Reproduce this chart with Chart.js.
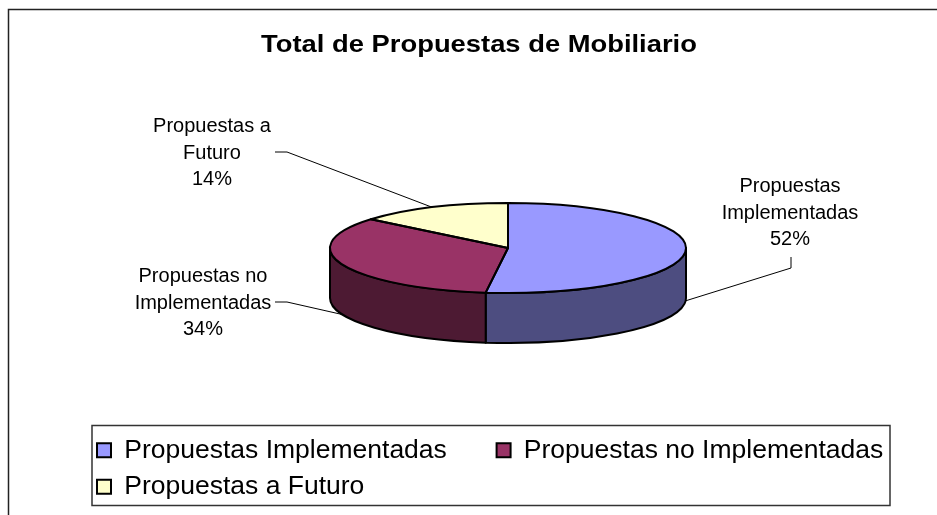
<!DOCTYPE html>
<html>
<head>
<meta charset="utf-8">
<script src="https://cdn.jsdelivr.net/npm/chart.js@4.4.0/dist/chart.umd.min.js"></script>
<style>
  html, body { margin: 0; padding: 0; background: #fff; }
  #wrap { width: 937px; height: 515px; position: relative; }
</style>
</head>
<body>
<div id="wrap"><canvas id="chart" width="937" height="515"></canvas></div>
<script>
// --- 1. Data ---
const categories = ['Propuestas Implementadas', 'Propuestas no Implementadas', 'Propuestas a Futuro'];
const shares = [52, 34, 14];
const labelLines = [['Propuestas', 'Implementadas'], ['Propuestas no', 'Implementadas'], ['Propuestas a', 'Futuro']];
const chartTitle = 'Total de Propuestas de Mobiliario';

// --- 2. Colours and layout ---
const TOP_COLORS = ['#9999FF', '#993366', '#FFFFCC'];
const SIDE_COLORS = ['#4D4D80', '#4D1A33', '#808066'];
const FONT = 'Arial, "Liberation Sans", sans-serif';
const PIE = { cx: 508, cy: 248, rx: 178, ry: 45, depth: 50 };
// legend gaps push the second column over (Excel lays the legend out in columns)
const LEGEND_GAP = ['\u2003\u2002', '', ''];
// first-line centre/baseline of each data label and the elbow of its leader line
const LABEL_LAYOUT = [
  { x: 790, y: 192, elbow: [[791, 257], [791, 268]] },
  { x: 203, y: 282, elbow: [[275, 302], [287, 302]] },
  { x: 212, y: 132, elbow: [[275, 152], [287, 152]] }
];
const LINE_GAP = 26.5;

// --- 3. Plugins ---
function wall(ctx, a, b, color) {
  const { cx, cy, rx, ry, depth } = PIE;
  ctx.beginPath();
  ctx.ellipse(cx, cy, rx, ry, 0, a, b, false);
  ctx.lineTo(cx + rx * Math.cos(b), cy + depth + ry * Math.sin(b));
  ctx.ellipse(cx, cy + depth, rx, ry, 0, b, a, true);
  ctx.closePath();
  ctx.fillStyle = color;
  ctx.fill();
  ctx.stroke();
}

const pie3d = {
  id: 'pie3d',
  beforeDatasetsDraw(chart) {
    const ctx = chart.ctx;
    const arcs = chart.getDatasetMeta(0).data;
    ctx.save();
    ctx.lineWidth = 2;
    ctx.lineJoin = 'round';
    ctx.strokeStyle = '#000';
    // only the front half of the rim is visible
    arcs.forEach((arc, i) => {
      [-2 * Math.PI, 0, 2 * Math.PI].forEach(k => {
        const a = Math.max(arc.startAngle, k), b = Math.min(arc.endAngle, k + Math.PI);
        if (b - a > 1e-4) wall(ctx, a, b, SIDE_COLORS[i]);
      });
    });
    ctx.restore();
    // squash the library's own pie into the top face
    const ref = arcs[0];
    ctx.save();
    ctx.translate(PIE.cx, PIE.cy);
    ctx.scale(PIE.rx / ref.outerRadius, PIE.ry / ref.outerRadius);
    ctx.translate(-ref.x, -ref.y);
  },
  afterDatasetsDraw(chart) {
    const ctx = chart.ctx;
    ctx.restore();
    const { cx, cy, rx, ry } = PIE;
    ctx.save();
    ctx.lineWidth = 2;
    ctx.lineJoin = 'round';
    ctx.strokeStyle = '#000';
    chart.getDatasetMeta(0).data.forEach(arc => {
      ctx.beginPath();
      ctx.moveTo(cx, cy);
      ctx.ellipse(cx, cy, rx, ry, 0, arc.startAngle, arc.endAngle, false);
      ctx.closePath();
      ctx.stroke();
    });
    ctx.restore();
  }
};

const decorations = {
  id: 'decorations',
  afterDraw(chart) {
    const ctx = chart.ctx;
    const total = shares.reduce((s, v) => s + v, 0);
    ctx.save();
    // outer frame
    ctx.strokeStyle = '#222';
    ctx.lineWidth = 1.5;
    ctx.strokeRect(8.5, 9.5, 1200, 1200);
    // legend frame
    ctx.strokeStyle = '#333';
    ctx.strokeRect(92, 425.5, 798, 80);
    // title
    ctx.fillStyle = '#000';
    ctx.font = 'bold 24px ' + FONT;
    ctx.textAlign = 'center';
    ctx.textBaseline = 'alphabetic';
    ctx.save();
    ctx.translate(479, 52);
    ctx.scale(1.14, 1);
    ctx.fillText(chartTitle, 0, 0);
    ctx.restore();
    // data labels and leader lines
    ctx.font = '20px ' + FONT;
    ctx.lineWidth = 1;
    ctx.strokeStyle = '#000';
    chart.getDatasetMeta(0).data.forEach((arc, i) => {
      const lay = LABEL_LAYOUT[i];
      const lines = labelLines[i].concat(Math.round(shares[i] / total * 100) + '%');
      lines.forEach((t, j) => ctx.fillText(t, lay.x, lay.y + j * LINE_GAP));
      const mid = (arc.startAngle + arc.endAngle) / 2;
      const s = Math.sin(mid);
      const end = [PIE.cx + PIE.rx * Math.cos(mid), PIE.cy + PIE.ry * s + (s > 0 ? PIE.depth : 0)];
      ctx.beginPath();
      ctx.moveTo(lay.elbow[0][0], lay.elbow[0][1]);
      ctx.lineTo(lay.elbow[1][0], lay.elbow[1][1]);
      ctx.lineTo(end[0], end[1]);
      ctx.stroke();
    });
    ctx.restore();
  }
};

// --- 4. Chart ---
new Chart(document.getElementById('chart').getContext('2d'), {
  type: 'pie',
  data: {
    labels: categories,
    datasets: [{
      data: shares,
      backgroundColor: TOP_COLORS,
      borderWidth: 0,
      clip: false
    }]
  },
  options: {
    responsive: false,
    animation: false,
    events: [],
    layout: { padding: { left: 87, right: 10, top: 70, bottom: 5 } },
    plugins: {
      title: { display: false },
      tooltip: { enabled: false },
      legend: {
        position: 'bottom',
        align: 'start',
        labels: {
          font: { family: FONT, size: 26.5 },
          color: '#000',
          boxWidth: 14,
          boxHeight: 14,
          padding: 10,
          generateLabels: () => categories.map((c, i) => ({
            text: c + LEGEND_GAP[i],
            fillStyle: TOP_COLORS[i],
            strokeStyle: '#000',
            lineWidth: 2,
            hidden: false,
            index: i
          }))
        }
      }
    }
  },
  plugins: [pie3d, decorations]
});
</script>
</body>
</html>
